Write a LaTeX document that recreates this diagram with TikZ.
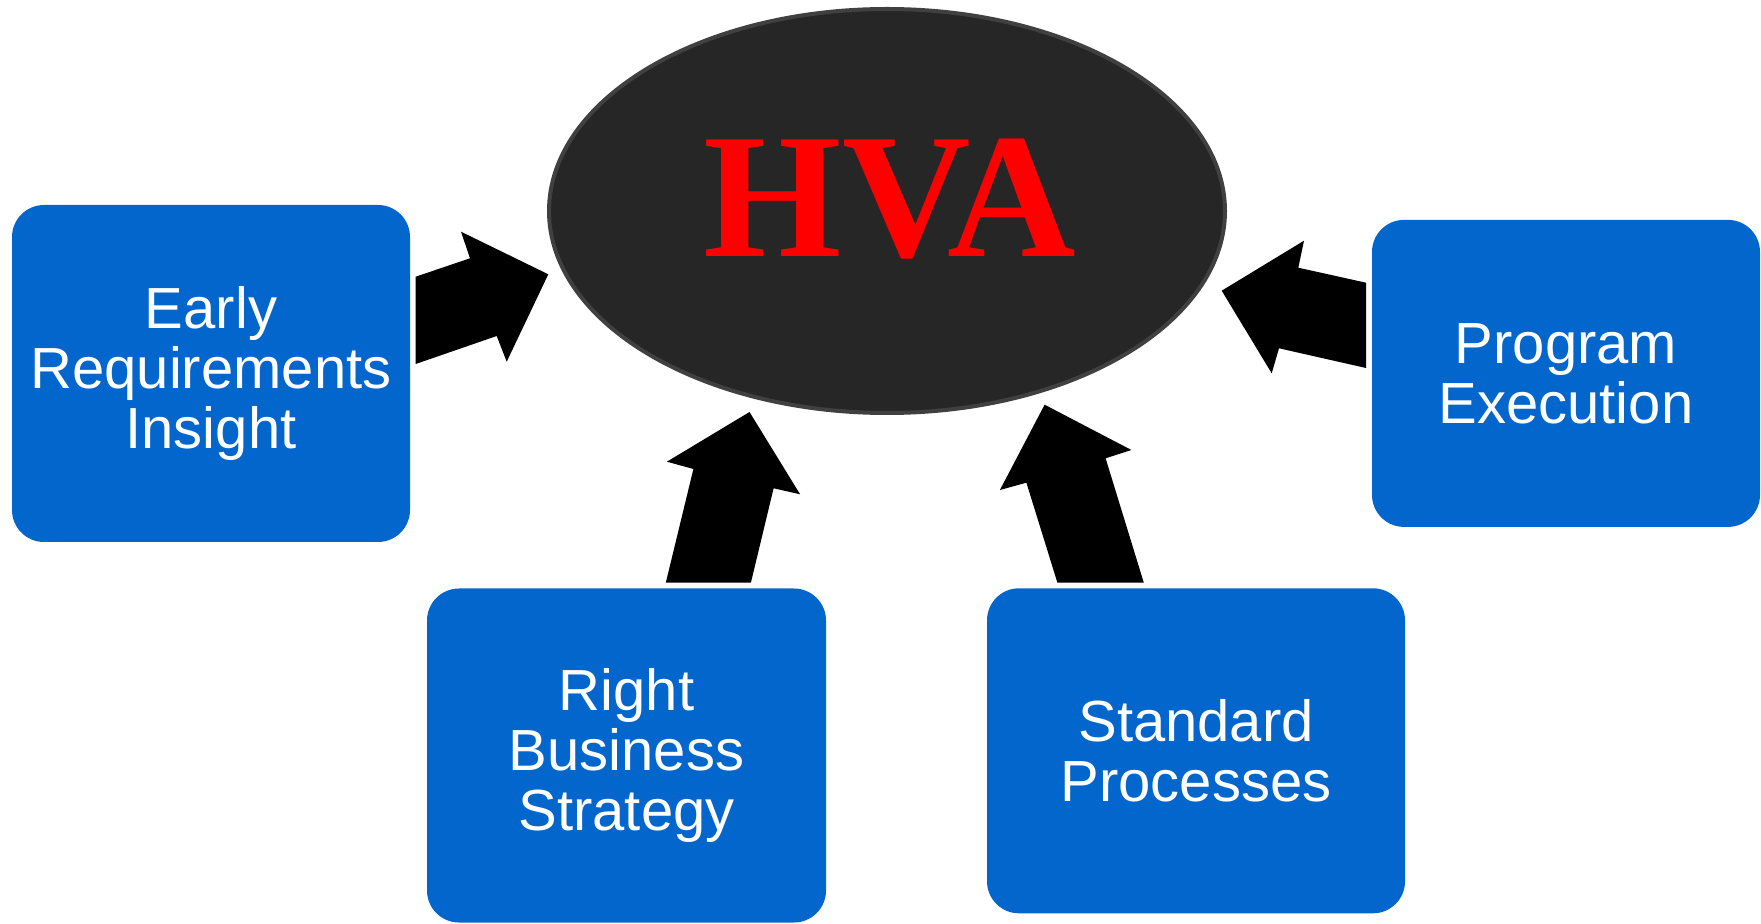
\documentclass[tikz,border=0pt]{standalone}
\usepackage{fontspec}
\setmainfont{Liberation Sans}
\newfontfamily\hvafont{Liberation Serif}
\usetikzlibrary{shapes.geometric}
\definecolor{boxblue}{RGB}{3,102,204}
\definecolor{hvafill}{RGB}{38,38,38}
\definecolor{hvaedge}{RGB}{64,64,64}
\tikzset{
  card/.style={fill=boxblue, rounded corners=16pt, text=white, align=center,
    inner sep=0pt, font=\fontsize{29pt}{30pt}\selectfont},
  blockarrow/.style={fill=black, draw=none},
}
\begin{document}
\begin{tikzpicture}[x=0.5pt,y=-0.5pt]
\useasboundingbox (0,0) rectangle (1761,924);
% central ellipse
\node[ellipse, fill=hvafill, draw=hvaedge, line width=2pt,
  minimum width=338pt, minimum height=202pt, inner sep=0pt] (hva) at (887,211) {};
\node[text=red, font=\hvafont\bfseries\fontsize{89pt}{89pt}\selectfont, anchor=base, inner sep=0pt] (hvatext) at (890,257) {HVA};
% boxes
\node[card, minimum width=199pt, minimum height=168.5pt] (early) at (211,373.5) {Early\\Requirements\\Insight};
\node[card, minimum width=194pt, minimum height=153.5pt] (prog) at (1566,373.4) {Program\\Execution};
\node[card, minimum width=199.5pt, minimum height=167pt] (right) at (626.5,755.5) {Right\\Business\\Strategy};
\node[card, minimum width=209pt, minimum height=162.5pt] (std) at (1196,750.8) {Standard\\Processes};
% block arrows
\fill[blockarrow] (415.7,276.7) -- (470,258.3) -- (461,231.7) -- (548.3,274.3) -- (506.7,361.7) -- (496.7,336) -- (415.7,364) -- cycle;
\fill[blockarrow] (1366,282.7) -- (1298.3,267.7) -- (1304,240.7) -- (1221.7,290.7) -- (1271.7,373.3) -- (1279,348.3) -- (1366,368) -- cycle;
\fill[blockarrow] (665.8,582.7) -- (693.4,469) -- (666.9,461.7) -- (749.5,412) -- (800.1,494.3) -- (773.6,488.3) -- (750.9,582.7) -- cycle;
\fill[blockarrow] (1057.4,582.7) -- (1026.4,482.7) -- (999.9,490) -- (1044.6,404.7) -- (1131.4,450) -- (1105.6,458.3) -- (1143.8,582.7) -- cycle;
\end{tikzpicture}
\end{document}
